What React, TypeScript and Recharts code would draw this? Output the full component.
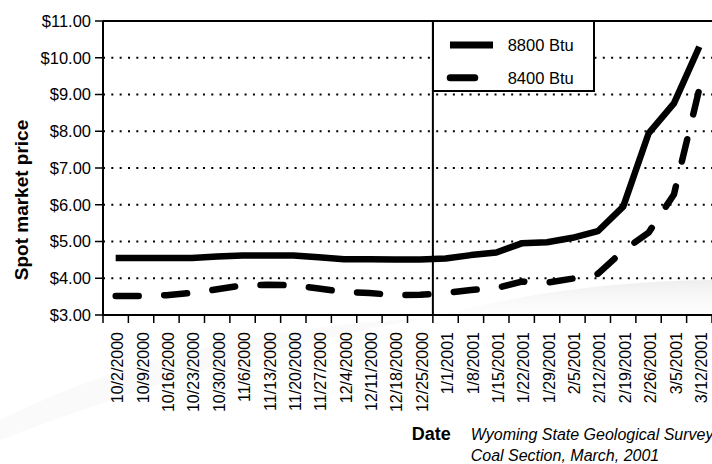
import React from 'react';
import {
  LineChart,
  Line,
  XAxis,
  YAxis,
  CartesianGrid,
  ReferenceLine,
  Legend,
  Label,
} from 'recharts';

// Weekly spot prices, Powder River Basin coal ($ per short ton)
const weeks = [
  '10/2/2000', '10/9/2000', '10/16/2000', '10/23/2000', '10/30/2000',
  '11/6/2000', '11/13/2000', '11/20/2000', '11/27/2000', '12/4/2000',
  '12/11/2000', '12/18/2000', '12/25/2000', '1/1/2001', '1/8/2001',
  '1/15/2001', '1/22/2001', '1/29/2001', '2/5/2001', '2/12/2001',
  '2/19/2001', '2/26/2001', '3/5/2001', '3/12/2001',
];

const btu8800 = [
  4.55, 4.55, 4.55, 4.55, 4.59, 4.62, 4.62, 4.62, 4.57, 4.52, 4.52, 4.51,
  4.51, 4.54, 4.63, 4.70, 4.95, 4.98, 5.10, 5.28, 5.95, 7.94, 8.76, 10.30,
];

const btu8400 = [
  3.52, 3.52, 3.54, 3.60, 3.70, 3.81, 3.82, 3.81, 3.72, 3.63, 3.60, 3.54,
  3.55, 3.60, 3.68, 3.73, 3.91, 3.88, 3.99, 4.12, 4.75, 5.24, 6.28, 9.15,
];

const priceTicks = [3, 4, 5, 6, 7, 8, 9, 10, 11];
const seriesNames = ['8800 Btu', '8400 Btu'];
const axisTitleY = 'Spot market price';
const axisTitleX = 'Date';
const sourceLines = ['Wyoming State Geological Survey', 'Coal Section, March, 2001'];

const FONT = '"Liberation Sans", Arial, Helvetica, sans-serif';
const INK = '#000';

const data = weeks.map((week, i) => ({
  idx: i,
  week,
  hi: btu8800[i],
  lo: btu8400[i],
}));

// category edges for the tick marks, and the break between the two years
const edgeTicks = [...weeks.map((_, i) => i - 0.5), weeks.length - 0.5];
const yearBreak = weeks.findIndex((w) => w.endsWith('2001')) - 0.5;

const seriesStyle: Record<string, { dash?: string; cap: 'butt' | 'round' }> = {
  hi: { cap: 'butt' },
  lo: { dash: '23 25.5', cap: 'round' },
};

const WeekTick = (props: any) => {
  const { x, y, payload } = props;
  const label = weeks[payload.value];
  if (label === undefined) return null;
  const tx = x + 7.6;
  const ty = y + 16;
  return (
    <text
      x={tx}
      y={ty}
      transform={`rotate(-90 ${tx} ${ty})`}
      textAnchor="end"
      fontSize={16}
      fontFamily={FONT}
      fill={INK}
    >
      {label}
    </text>
  );
};

const PriceTitle = (props: any) => {
  const { x, y, height } = props.viewBox;
  const cx = x + 27.5;
  const cy = y + height / 2 + 32;
  return (
    <text
      x={cx}
      y={cy}
      transform={`rotate(-90 ${cx} ${cy})`}
      textAnchor="middle"
      fontSize={19}
      fontWeight="bold"
      fontFamily={FONT}
      fill={INK}
    >
      {axisTitleY}
    </text>
  );
};

const DateFooter = (props: any) => {
  const { x, y } = props.viewBox;
  return (
    <g fontFamily={FONT} fill={INK}>
      <text x={x + 308.7} y={y + 124} fontSize={18} fontWeight="bold">
        {axisTitleX}
      </text>
      {sourceLines.map((line, i) => (
        <text key={line} x={x + 367.7} y={y + 124 + i * 21} fontSize={16} fontStyle="italic">
          {line}
        </text>
      ))}
    </g>
  );
};

const LegendBox = (props: any) => {
  const payload = [...(props.payload || [])].sort(
    (a: any, b: any) => seriesNames.indexOf(a.value) - seriesNames.indexOf(b.value),
  );
  return (
    <svg width={163} height={72} style={{ display: 'block' }}>
      <rect x={1} y={1} width={161} height={70} fill="#fff" stroke={INK} strokeWidth={2} />
      {payload.map((item: any, i: number) => {
        const style = seriesStyle[item.dataKey] || { cap: 'butt' };
        const cy = 25 + i * 32.7;
        const dashed = !!style.dash;
        return (
          <g key={item.value}>
            <line
              x1={dashed ? 18.2 : 18}
              x2={dashed ? 42.8 : 61}
              y1={cy}
              y2={cy}
              stroke={INK}
              strokeWidth={7}
              strokeLinecap={style.cap}
            />
            <text
              x={75.7}
              y={cy}
              dominantBaseline="central"
              fontSize={16.5}
              fontFamily={FONT}
              fill={INK}
            >
              {item.value}
            </text>
          </g>
        );
      })}
    </svg>
  );
};

// faint backdrop swirl behind the lower part of the chart
const Backdrop = () => (
  <svg width={712} height={464} style={{ position: 'absolute', left: 0, top: 0 }}>
    <defs>
      <linearGradient id="swirl" x1="0" y1="0" x2="0" y2="1">
        <stop offset="0" stopColor="#ececec" stopOpacity={0.9} />
        <stop offset="1" stopColor="#ffffff" stopOpacity={0} />
      </linearGradient>
    </defs>
    <path d="M 430 318 Q 560 282 712 280 L 712 330 Q 560 326 430 318 Z" fill="url(#swirl)" />
    <path d="M 0 420 Q 180 330 430 318 Q 250 345 0 440 Z" fill="#f7f7f7" opacity={0.6} />
  </svg>
);

export default function App() {
  return (
    <div style={{ position: 'absolute', left: 0, top: 0, width: 712, height: 464, background: '#fff' }}>
      <Backdrop />
      <div style={{ position: 'absolute', left: 0, top: 0 }}>
        <LineChart
          width={712}
          height={464}
          data={data}
          margin={{ top: 21, right: 0, bottom: 0, left: 0 }}
        >
          <CartesianGrid
            xAxisId="edge"
            vertical={false}
            stroke={INK}
            strokeWidth={2}
            strokeDasharray="2 6.33"
          />
          <XAxis
            xAxisId="edge"
            dataKey="idx"
            type="number"
            domain={[-0.5, weeks.length - 0.5]}
            ticks={edgeTicks}
            interval={0}
            height={1}
            tickSize={8}
            tick={() => null}
            tickLine={{ stroke: INK, strokeWidth: 1.5 }}
            axisLine={{ stroke: INK, strokeWidth: 2 }}
          />
          <XAxis
            xAxisId="label"
            dataKey="idx"
            type="number"
            domain={[-0.5, weeks.length - 0.5]}
            ticks={weeks.map((_, i) => i)}
            interval={0}
            height={148}
            tickSize={0}
            tickMargin={0}
            axisLine={false}
            tickLine={false}
            tick={<WeekTick />}
          >
            <Label content={<DateFooter />} />
          </XAxis>
          <YAxis
            domain={[3, 11]}
            ticks={priceTicks}
            interval={0}
            width={103}
            tickSize={8}
            tickMargin={4}
            tickFormatter={(v: number) => `$${v.toFixed(2)}`}
            tick={{ fontSize: 16.5, fontFamily: FONT, fill: INK }}
            tickLine={{ stroke: INK, strokeWidth: 1.5 }}
            axisLine={{ stroke: INK, strokeWidth: 2 }}
          >
            <Label content={<PriceTitle />} />
          </YAxis>
          <ReferenceLine xAxisId="edge" y={11} stroke={INK} strokeWidth={2} />
          <ReferenceLine xAxisId="edge" x={yearBreak} stroke={INK} strokeWidth={2} />
          <Line
            xAxisId="edge"
            type="linear"
            dataKey="hi"
            name={seriesNames[0]}
            stroke={INK}
            strokeWidth={6.5}
            strokeLinejoin="round"
            strokeLinecap="butt"
            dot={false}
            activeDot={false}
            isAnimationActive={false}
          />
          <Line
            xAxisId="edge"
            type="linear"
            dataKey="lo"
            name={seriesNames[1]}
            stroke={INK}
            strokeWidth={6.5}
            strokeDasharray={seriesStyle.lo.dash}
            strokeLinejoin="round"
            strokeLinecap="round"
            dot={false}
            activeDot={false}
            isAnimationActive={false}
          />
          <Legend
            layout="horizontal"
            verticalAlign="middle"
            align="center"
            content={<LegendBox />}
            wrapperStyle={{ left: 432, top: 20, width: 163, height: 72 }}
          />
        </LineChart>
      </div>
    </div>
  );
}
